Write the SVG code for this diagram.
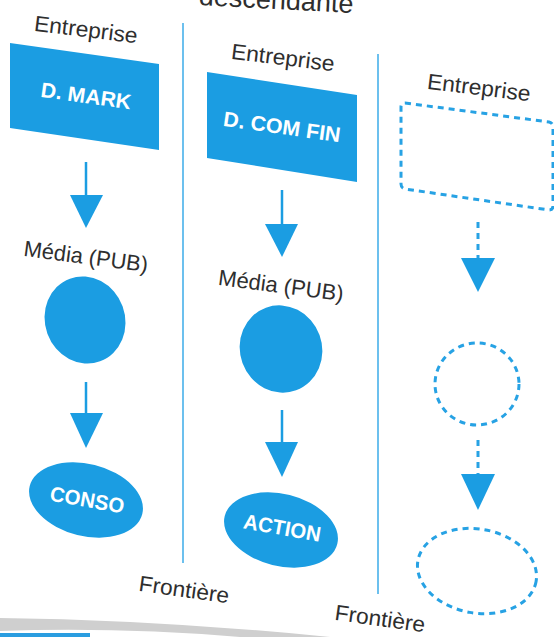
<svg xmlns="http://www.w3.org/2000/svg" width="554" height="637" viewBox="0 0 554 637">
<style>
.lbl{font-family:"Liberation Sans",Arial,sans-serif;font-size:22px;fill:#2e2e2e;text-anchor:middle}
.in{font-family:"Liberation Sans",Arial,sans-serif;font-size:21px;font-weight:bold;fill:#ffffff;text-anchor:middle}
.solid{fill:#1b9de2}
.dash{fill:none;stroke:#27a2e4;stroke-width:3;stroke-dasharray:6 5}
.div{stroke:#6cc0ee;stroke-width:2}
.ln{stroke:#1b9de2;stroke-width:2.5}
.dln{stroke:#27a2e4;stroke-width:3;stroke-dasharray:6 5}
</style>
<rect width="554" height="637" fill="#ffffff"/>
<g id="title">
<text class="lbl" style="font-size:27px;text-anchor:end" x="353" y="13" transform="rotate(3 353 13)">descendante</text>
</g>
<g id="dividers">
<line class="div" x1="183" y1="23" x2="183" y2="563"/>
<line class="div" x1="378" y1="54" x2="378" y2="594"/>
</g>
<g id="col1-entreprise"><text class="lbl" x="85" y="37" textLength="104" lengthAdjust="spacingAndGlyphs" transform="rotate(7 85 37)">Entreprise</text></g>
<g id="col1-dmark">
<polygon class="solid" points="10,43 159,64 159,150 10,128"/>
<text class="in" x="85" y="103" textLength="91" lengthAdjust="spacingAndGlyphs" transform="rotate(8 85 103)">D. MARK</text>
</g>
<g id="col1-media">
<text class="lbl" x="85" y="264" textLength="125" lengthAdjust="spacingAndGlyphs" transform="rotate(7.5 85 264)">Média (PUB)</text>
<ellipse class="solid" cx="85" cy="320" rx="40" ry="44" transform="rotate(-20 85 320)"/>
</g>
<g id="col1-conso">
<ellipse class="solid" cx="86" cy="500" rx="58" ry="36" transform="rotate(14 86 500)"/>
<text class="in" x="86" y="507" textLength="75" lengthAdjust="spacingAndGlyphs" transform="rotate(10 86 507)">CONSO</text>
</g>
<g id="col2-entreprise"><text class="lbl" x="282" y="65" textLength="104" lengthAdjust="spacingAndGlyphs" transform="rotate(7 282 65)">Entreprise</text></g>
<g id="col2-dcomfin">
<polygon class="solid" points="207,72 357,95 357,182 207,158"/>
<text class="in" x="281" y="134" textLength="118" lengthAdjust="spacingAndGlyphs" transform="rotate(8 281 134)">D. COM FIN</text>
</g>
<g id="col2-media">
<text class="lbl" x="280" y="293" textLength="126" lengthAdjust="spacingAndGlyphs" transform="rotate(7.5 280 293)">Média (PUB)</text>
<ellipse class="solid" cx="281" cy="349" rx="41" ry="44" transform="rotate(-20 281 349)"/>
</g>
<g id="col2-action">
<ellipse class="solid" cx="281" cy="530" rx="58" ry="36" transform="rotate(14 281 530)"/>
<text class="in" x="281" y="535" textLength="78" lengthAdjust="spacingAndGlyphs" transform="rotate(10 281 535)">ACTION</text>
</g>
<g id="col3-entreprise"><text class="lbl" x="478" y="95" textLength="104" lengthAdjust="spacingAndGlyphs" transform="rotate(7 478 95)">Entreprise</text></g>
<g id="col3-box">
<path class="dash" d="M405,103 L549,122 Q553,123 553,127 L553,206 Q553,210 549,210 L405,189 Q401,188 401,184 L401,107 Q401,103 405,103 Z"/>
</g>
<g id="col3-circle"><ellipse class="dash" cx="477" cy="384" rx="42" ry="41"/></g>
<g id="col3-ellipse"><ellipse class="dash" cx="477" cy="571" rx="60" ry="42" transform="rotate(10 477 571)"/></g>
<g id="frontieres">
<text class="lbl" x="183" y="597" textLength="91" lengthAdjust="spacingAndGlyphs" transform="rotate(8 183 597)">Frontière</text>
<text class="lbl" x="379" y="626" textLength="91" lengthAdjust="spacingAndGlyphs" transform="rotate(8 379 626)">Frontière</text>
</g>
<g id="connectors">
<line class="ln" x1="86" y1="162" x2="86" y2="198"/>
<polygon class="solid" points="70,195 103,195 86,228"/>
<line class="ln" x1="86" y1="382" x2="86" y2="416"/>
<polygon class="solid" points="70,413 103,413 86,448"/>
<line class="ln" x1="282" y1="190" x2="282" y2="227"/>
<polygon class="solid" points="265,224 298,224 282,257"/>
<line class="ln" x1="282" y1="410" x2="282" y2="445"/>
<polygon class="solid" points="265,442 298,442 282,477"/>
<line class="dln" x1="478" y1="222" x2="478" y2="259"/>
<polygon class="solid" points="461,258 495,258 478,292"/>
<line class="dln" x1="478" y1="440" x2="478" y2="476"/>
<polygon class="solid" points="461,474 495,474 478,510"/>
</g>
<g id="page-edge">
<path d="M0,618 Q160,620 330,637 L240,637 Q120,627 0,631 Z" fill="#cfcfcf"/>
<rect x="0" y="633" width="90" height="4" fill="#2a9de0"/>
</g>
</svg>
